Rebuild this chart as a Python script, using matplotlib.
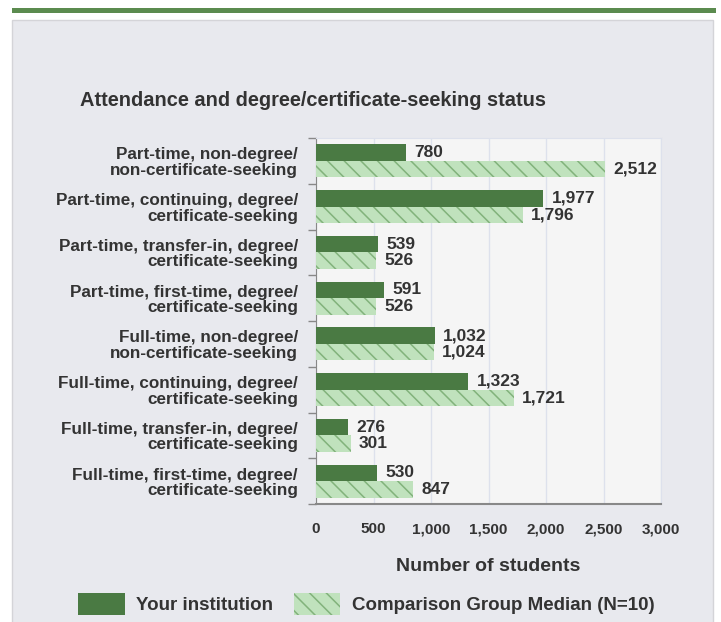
import matplotlib.pyplot as plt
import numpy as np
from matplotlib.patches import Rectangle, Patch

plt.rcParams['font.family'] = ['Liberation Sans', 'DejaVu Sans']
plt.rcParams['hatch.linewidth'] = 1.1

# Data (top to bottom as shown)
categories = [
    "Part-time, non-degree/\nnon-certificate-seeking",
    "Part-time, continuing, degree/\ncertificate-seeking",
    "Part-time, transfer-in, degree/\ncertificate-seeking",
    "Part-time, first-time, degree/\ncertificate-seeking",
    "Full-time, non-degree/\nnon-certificate-seeking",
    "Full-time, continuing, degree/\ncertificate-seeking",
    "Full-time, transfer-in, degree/\ncertificate-seeking",
    "Full-time, first-time, degree/\ncertificate-seeking",
]
your_institution = [780, 1977, 539, 591, 1032, 1323, 276, 530]
comparison_median = [2512, 1796, 526, 526, 1024, 1721, 301, 847]
x_ticks = [0, 500, 1000, 1500, 2000, 2500, 3000]

dark_green = '#4a7a43'
light_green = '#c0e2bd'
hatch_green = '#82b27b'
text_color = '#333333'

fig = plt.figure(figsize=(7.21, 6.22), dpi=100)
fig.patch.set_facecolor('white')

# top green band and gray panel
W, H = 721, 622
fig.patches.append(Rectangle((12 / W, 1 - 13 / H), 704 / W, 5 / H, transform=fig.transFigure,
                             facecolor='#5b8b4f', edgecolor='none', zorder=-10))
fig.patches.append(Rectangle((12 / W, -0.01), 701 / W, 1 - 20 / H + 0.01, transform=fig.transFigure,
                             facecolor='#e8e9ee', edgecolor='#d4d4d8', lw=1, zorder=-10))

ax = fig.add_axes([316 / W, 1 - 504 / H, 345 / W, 366 / H])
ax.set_facecolor('#f5f5f5')

y = np.arange(len(categories))
h = 0.36
ax.barh(y - h / 2, your_institution, height=h, color=dark_green, zorder=3)
ax.barh(y + h / 2, comparison_median, height=h, color=light_green, edgecolor=hatch_green,
        hatch='\\\\', lw=0, zorder=3)

for i in range(len(categories)):
    ax.annotate(f'{your_institution[i]:,}', (your_institution[i], y[i] - h / 2),
                xytext=(6, 0), textcoords='offset points', ha='left', va='center',
                fontsize=12.5, fontweight='bold', color=text_color)
    ax.annotate(f'{comparison_median[i]:,}', (comparison_median[i], y[i] + h / 2),
                xytext=(6, 0), textcoords='offset points', ha='left', va='center',
                fontsize=12.5, fontweight='bold', color=text_color)

ax.set_xlim(0, 3000)
ax.set_ylim(len(categories) - 0.5, -0.5)
ax.set_xticks(x_ticks)
ax.set_xticklabels([f'{v:,}' for v in x_ticks], fontsize=11, fontweight='bold', color=text_color)
ax.tick_params(axis='x', length=0, pad=13)

# boundary ticks + centered labels
ax.set_yticks(np.arange(len(categories) + 1) - 0.5)
ax.set_yticklabels([])
ax.tick_params(axis='y', which='major', length=6, color='#888888', width=1)
ax.set_yticks(y, minor=True)
ax.set_yticklabels(categories, minor=True, fontsize=12.3, fontweight='bold', color=text_color,
                   linespacing=1.05)
ax.tick_params(axis='y', which='minor', length=0, pad=13)

ax.grid(axis='x', color='#dde1ec', lw=1, zorder=0)
ax.set_axisbelow(True)
for side in ['top', 'right']:
    ax.spines[side].set_color('#dde1ec')
ax.spines['left'].set_color('#888888')
ax.spines['bottom'].set_color('#888888')
ax.spines['bottom'].set_linewidth(1.5)

ax.set_xlabel('Number of students', fontsize=14, fontweight='bold', color=text_color, labelpad=16)
fig.text(80 / W, 1 - 101 / H, 'Attendance and degree/certificate-seeking status',
         fontsize=14.4, fontweight='bold', color=text_color, ha='left', va='center')

handles = [Patch(facecolor=dark_green, edgecolor='none', label='Your institution'),
           Patch(facecolor=light_green, edgecolor=hatch_green, hatch='\\\\', lw=0,
                 label='Comparison Group Median (N=10)')]
leg = fig.legend(handles=handles, loc='center', bbox_to_anchor=(366 / W, 1 - 604 / H), ncol=2,
                 frameon=False, handlelength=2.5, handleheight=1.35, columnspacing=1.1,
                 handletextpad=0.6, prop={'size': 13.5, 'weight': 'bold'})
for t in leg.get_texts():
    t.set_color(text_color)

fig.savefig('out.png', dpi=100)
